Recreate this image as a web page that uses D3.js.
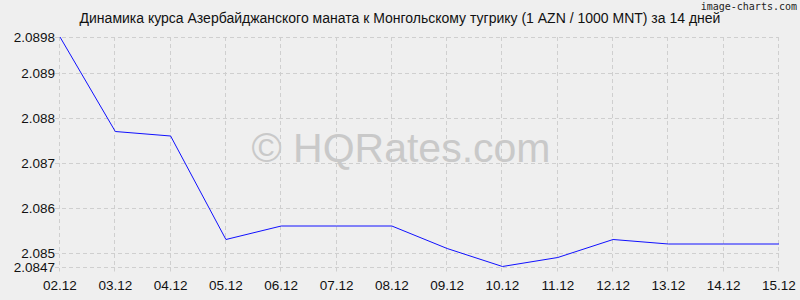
<!DOCTYPE html>
<html><head><meta charset="utf-8">
<script src="https://cdn.jsdelivr.net/npm/d3@7/dist/d3.min.js"></script>
<style>body{margin:0;background:#efefef}svg{display:block}</style>
</head><body><svg id="c" width="800" height="300"></svg>
<script>
const dates = ["02.12","03.12","04.12","05.12","06.12","07.12","08.12","09.12","10.12","11.12","12.12","13.12","14.12","15.12"];
const rates = [2.0898,2.0877,2.0876,2.0853,2.0856,2.0856,2.0856,2.0851,2.0847,2.0849,2.0853,2.0852,2.0852,2.0852];
const yTicks = [2.0847,2.085,2.086,2.087,2.088,2.089,2.0898];
const yTickLabels = ["2.0847","2.085","2.086","2.087","2.088","2.089","2.0898"];
const title = "Динамика курса Азербайджанского маната к Монгольскому тугрику (1 AZN / 1000 MNT) за 14 дней";

const svg = d3.select("#c");
const L = 60, R = 779, T = 37, B = 266.5;
svg.append("rect").attr("width",800).attr("height",300).attr("fill","#efefef");
const x = d3.scalePoint().domain(dates).range([L, R]);
const y = d3.scaleLinear().domain([2.0847, 2.0898]).range([B, T]);

const g = svg.append("g");
g.selectAll("line.v").data(dates).join("line")
  .attr("x1", d => Math.round(x(d)) - 0.5).attr("x2", d => Math.round(x(d)) - 0.5)
  .attr("y1", T).attr("y2", B + 5)
  .attr("stroke", "#cfcfcf").attr("stroke-dasharray", "4,3");
g.selectAll("line.h").data(yTicks).join("line")
  .attr("x1", L - 5).attr("x2", R)
  .attr("y1", d => Math.round(y(d)) + 0.5).attr("y2", d => Math.round(y(d)) + 0.5)
  .attr("stroke", "#cfcfcf").attr("stroke-dasharray", "4,3");

svg.append("text").attr("x", 401).attr("y", 162).attr("text-anchor","middle")
  .attr("font-family","Liberation Sans, Arial, sans-serif").attr("font-size", 41)
  .attr("fill","#c9c9c9").text("© HQRates.com");

svg.selectAll("text.yl").data(yTicks).join("text")
  .attr("x", L - 5).attr("y", d => y(d) + 5).attr("text-anchor","end")
  .attr("font-family","Liberation Sans, Arial, sans-serif").attr("font-size", 13.5)
  .attr("fill","#111").text((d,i) => yTickLabels[i]);
svg.selectAll("text.xl").data(dates).join("text")
  .attr("x", d => x(d)).attr("y", 290).attr("text-anchor","middle")
  .attr("font-family","Liberation Sans, Arial, sans-serif").attr("font-size", 13.5)
  .attr("fill","#111").text(d => d);

const line = d3.line().x((d,i) => x(dates[i])).y(d => y(d));
svg.append("path").datum(rates).attr("d", line)
  .attr("fill","none").attr("stroke","#1010ff").attr("stroke-width",1);

svg.append("text").attr("x", 400).attr("y", 23).attr("text-anchor","middle")
  .attr("font-family","Liberation Sans, Arial, sans-serif").attr("font-size", 14)
  .attr("fill","#111").text(title);
svg.append("text").attr("x", 797).attr("y", 10).attr("text-anchor","end")
  .attr("font-family","DejaVu Sans Mono, monospace").attr("font-size", 10)
  .attr("fill","#222").text("image-charts.com");
</script></body></html>
